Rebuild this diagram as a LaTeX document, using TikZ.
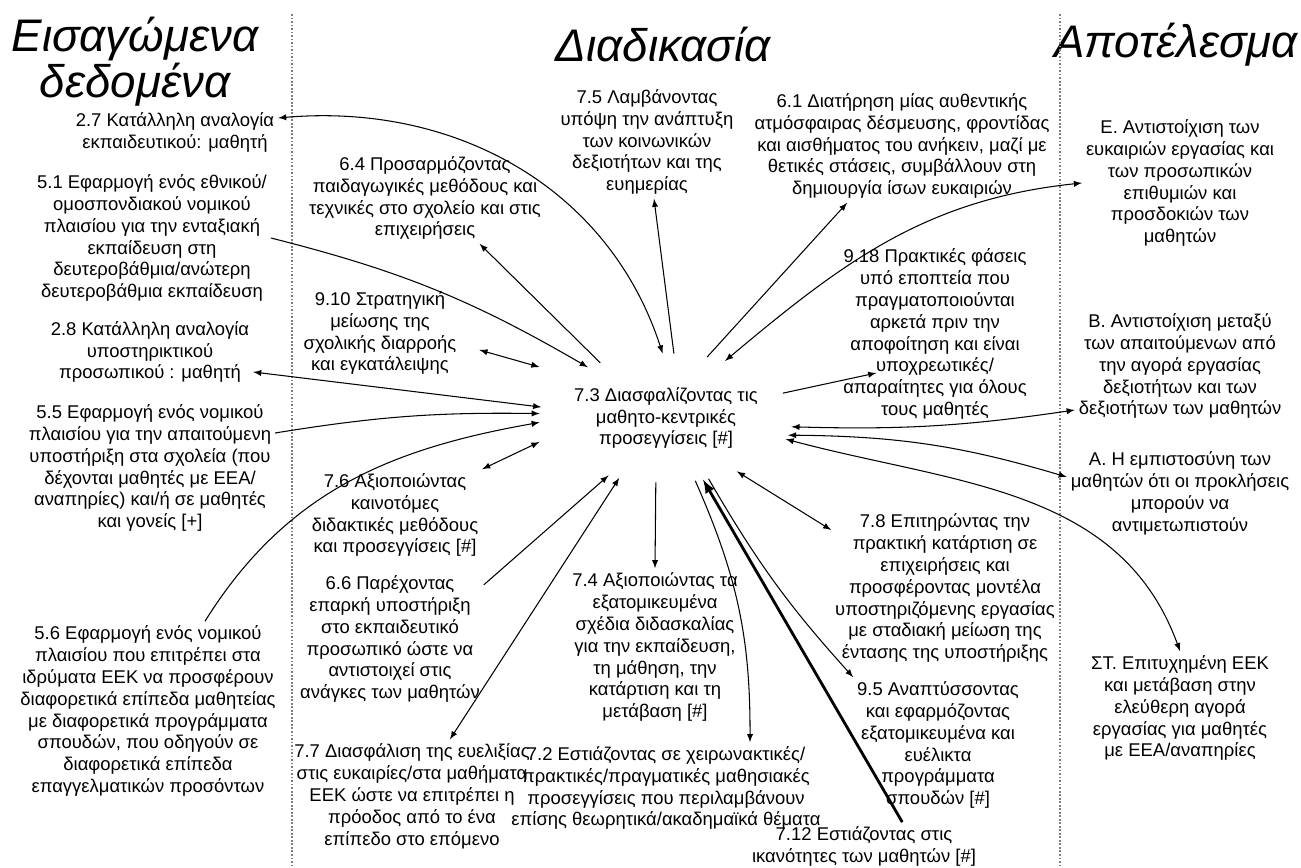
\documentclass[tikz,border=0pt]{standalone}
\usepackage{fontspec}
\setmainfont{Liberation Sans}
\usetikzlibrary{shapes.geometric}
\begin{document}
\begin{tikzpicture}[x=0.2mm, y=0.2mm, >=latex, line width=0.6pt]
        \tikzstyle{txt} = [align=center, font=\fontsize{10.5}{12.5}\selectfont, inner sep=2pt]
        \tikzstyle{head} = [align=center, font=\fontsize{26}{19}\selectfont\itshape, inner sep=1pt]
        \tikzstyle{sep} = [gray, densely dotted, line width=1pt]

        \useasboundingbox (0,0) rectangle (1301,867);

        \node [head] (head-in) at (135,805) {Εισαγώμενα\\δεδομένα};
        \node [head] (head-proc) at (663,822) {Διαδικασία};
        \node [head] (head-out) at (1176,822) {Αποτέλεσμα};

        \draw [sep] (292,853) -- (292,0);
        \draw [sep] (1060,853) -- (1060,0);

        % inputs
        \node [txt] (in-27) at (175,735) {2.7 Κατάλληλη αναλογία\\εκπαιδευτικού: μαθητή};
        \node [txt] (in-51) at (152,629) {5.1 Εφαρμογή ενός εθνικού/\\ομοσπονδιακού νομικού\\πλαισίου για την ενταξιακή\\εκπαίδευση στη\\δευτεροβάθμια/ανώτερη\\δευτεροβάθμια εκπαίδευση};
        \node [txt] (in-28) at (150,515) {2.8 Κατάλληλη αναλογία\\υποστηρικτικού\\προσωπικού : μαθητή};
        \node [txt] (in-55) at (150,399) {5.5 Εφαρμογή ενός νομικού\\πλαισίου για την απαιτούμενη\\υποστήριξη στα σχολεία (που\\δέχονται μαθητές με ΕΕΑ/\\αναπηρίες) και/ή σε μαθητές\\και γονείς [+]};
        \node [txt] (in-56) at (148,156) {5.6 Εφαρμογή ενός νομικού\\πλαισίου που επιτρέπει στα\\ιδρύματα ΕΕΚ να προσφέρουν\\διαφορετικά επίπεδα μαθητείας\\με διαφορετικά προγράμματα\\σπουδών, που οδηγούν σε\\διαφορετικά επίπεδα\\επαγγελματικών προσόντων};

        % process
        \node [txt, ellipse, inner xsep=-1.5pt, inner ysep=0pt, minimum height=25.6mm] (proc-73) at (666,449) {7.3 Διασφαλίζοντας τις\\μαθητο-κεντρικές\\προσεγγίσεις [\#]};
        \node [txt] (proc-64) at (425,669) {6.4 Προσαρμόζοντας\\παιδαγωγικές μεθόδους και\\τεχνικές στο σχολείο και στις\\επιχειρήσεις};
        \node [txt] (proc-75) at (647,725) {7.5 Λαμβάνοντας\\υπόψη την ανάπτυξη\\των κοινωνικών\\δεξιοτήτων και της\\ευημερίας};
        \node [txt] (proc-61) at (902,721) {6.1 Διατήρηση μίας αυθεντικής\\ατμόσφαιρας δέσμευσης, φροντίδας\\και αισθήματος του ανήκειν, μαζί με\\θετικές στάσεις, συμβάλλουν στη\\δημιουργία ίσων ευκαιριών};
        \node [txt] (proc-910) at (380,534) {9.10 Στρατηγική\\μείωσης της\\σχολικής διαρροής\\και εγκατάλειψης};
        \node [txt] (proc-918) at (935,533) {9.18 Πρακτικές φάσεις\\υπό εποπτεία που\\πραγματοποιούνται\\αρκετά πριν την\\αποφοίτηση και είναι\\υποχρεωτικές/\\απαραίτητες για όλους\\τους μαθητές};
        \node [txt] (proc-76) at (395,352) {7.6 Αξιοποιώντας\\καινοτόμες\\διδακτικές μεθόδους\\και προσεγγίσεις [\#]};
        \node [txt] (proc-78) at (945,279) {7.8 Επιτηρώντας την\\πρακτική κατάρτιση σε\\επιχειρήσεις και\\προσφέροντας μοντέλα\\υποστηριζόμενης εργασίας\\με σταδιακή μείωση της\\έντασης της υποστήριξης};
        \node [txt] (proc-66) at (390,228) {6.6 Παρέχοντας\\επαρκή υποστήριξη\\στο εκπαιδευτικό\\προσωπικό ώστε να\\αντιστοιχεί στις\\ανάγκες των μαθητών};
        \node [txt] (proc-74) at (655,220) {7.4 Αξιοποιώντας τα\\εξατομικευμένα\\σχέδια διδασκαλίας\\για την εκπαίδευση,\\τη μάθηση, την\\κατάρτιση και τη\\μετάβαση [\#]};
        \node [txt] (proc-95) at (938,122) {9.5 Αναπτύσσοντας\\και εφαρμόζοντας\\εξατομικευμένα και\\ευέλικτα\\προγράμματα\\σπουδών [\#]};
        \node [txt] (proc-77) at (412,71) {7.7 Διασφάλιση της ευελιξίας\\στις ευκαιρίες/στα μαθήματα\\ΕΕΚ ώστε να επιτρέπει η\\πρόοδος από το ένα\\επίπεδο στο επόμενο};
        \node [txt] (proc-72) at (666,79) {7.2 Εστιάζοντας σε χειρωνακτικές/\\πρακτικές/πραγματικές μαθησιακές\\προσεγγίσεις που περιλαμβάνουν\\επίσης θεωρητικά/ακαδημαϊκά θέματα};
        \node [txt] (proc-712) at (864,21) {7.12 Εστιάζοντας στις\\ικανότητες των μαθητών [\#]};

        % outcomes
        \node [txt] (out-e) at (1180,684) {Ε. Αντιστοίχιση των\\ευκαιριών εργασίας και\\των προσωπικών\\επιθυμιών και\\προσδοκιών των\\μαθητών};
        \node [txt] (out-b) at (1180,501) {Β. Αντιστοίχιση μεταξύ\\των απαιτούμενων από\\την αγορά εργασίας\\δεξιοτήτων και των\\δεξιοτήτων των μαθητών};
        \node [txt] (out-a) at (1180,374) {Α. Η εμπιστοσύνη των\\μαθητών ότι οι προκλήσεις\\μπορούν να\\αντιμετωπιστούν};
        \node [txt] (out-st) at (1180,159) {ΣΤ. Επιτυχημένη ΕΕΚ\\και μετάβαση στην\\ελεύθερη αγορά\\εργασίας για μαθητές\\με ΕΕΑ/αναπηρίες};

        \draw [<->] (proc-73.93) to[out=108, in=5] ([yshift=2.8mm]in-27.east);
        \draw [->] (in-51.east) to[bend left=8] (proc-73.147);
        \draw [<->] ([yshift=-4mm]in-28.east) -- (proc-73.175);
        \draw [->] ([yshift=7mm]in-55.east) to[bend left=5] (proc-73.178);
        \draw [->] ([xshift=11.4mm]in-56.north) to[out=58, in=190] (proc-73.182);

        \draw [->] (proc-73.140) -- (proc-64.-40);
        \draw [->] (proc-73.83) -- ([xshift=1.4mm]proc-75.south);
        \draw [->] (proc-73.56) -- (proc-61.-134);
        \draw [<->] ([yshift=10.2mm]proc-73.west) -- ([shift={(3.8mm,-3.4mm)}]proc-910.east);
        \draw [->] (proc-73.12) -- ([shift={(7.4mm,-7.8mm)}]proc-918.west);
        \draw [<->] ([yshift=-4.8mm]proc-73.west) -- (proc-76.north east);
        \draw [<->] (proc-73.-37) -- (proc-78.153);
        \draw [->] (proc-66.30) -- (proc-73.225);
        \draw [<->] (proc-73.232) -- ([xshift=7.6mm]proc-77.north);
        \draw [->] (proc-73.-99) -- (proc-74.north);
        \draw [->] (proc-73.-65) to[bend left=12] ([xshift=16.8mm]proc-72.north);
        \draw [->] (proc-73.-55) to[bend right=6] (proc-95.north west);
        \draw [->, line width=1.6pt] (proc-712.32) -- (proc-73.-59);

        \draw [<->] (proc-73.44) to[out=40, in=186] (out-e.west);
        \draw [<->] (proc-73.-4.5) to[bend right=5] ([yshift=-8.8mm]out-b.west);
        \draw [<->] (proc-73.-8.4) to[bend left=8] ([yshift=3.2mm]out-a.west);
        \draw [<->] (proc-73.-10.5) to[out=-15, in=110] (out-st.north);
\end{tikzpicture}
\end{document}
